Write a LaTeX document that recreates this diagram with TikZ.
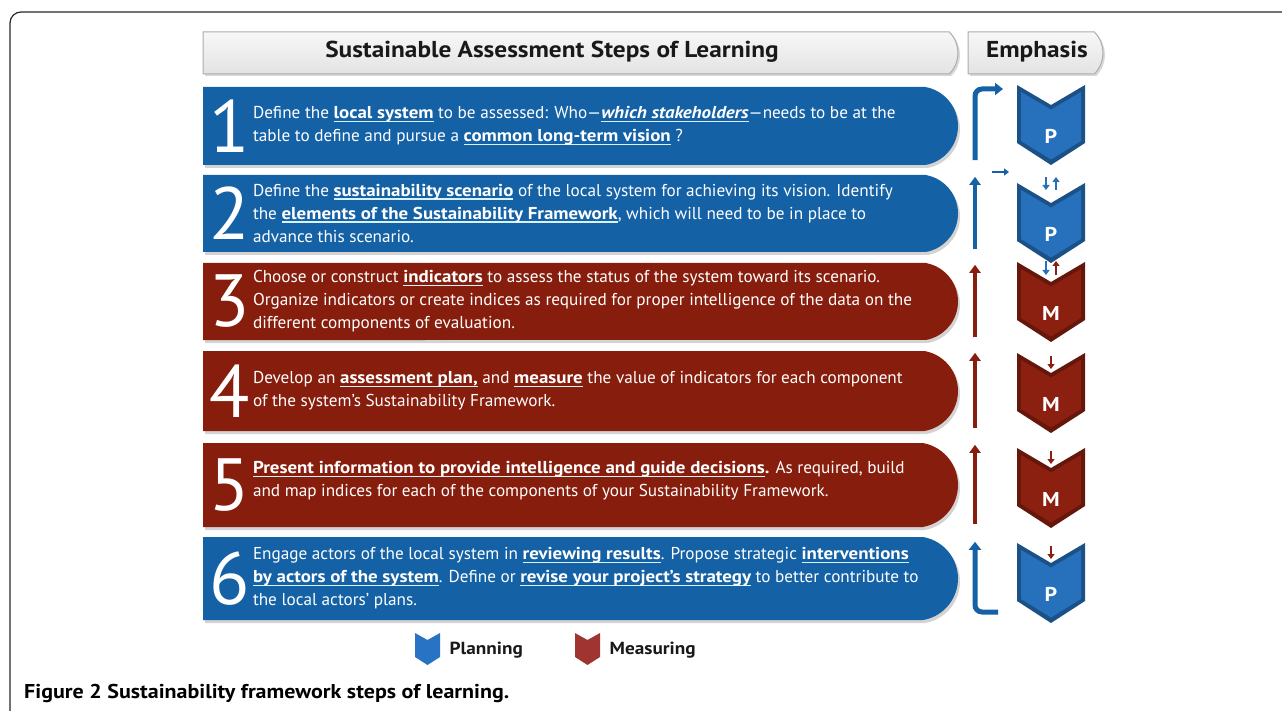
\documentclass[tikz,border=0pt]{standalone}
\usepackage{fontspec}
\setmainfont{PT Sans}[BoldFeatures={FakeStretch=1.1}, BoldItalicFeatures={FakeStretch=1.1}]
\usetikzlibrary{arrows.meta,shapes.misc,shadows,positioning,calc}

\definecolor{stepblue}{RGB}{20,97,165}
\definecolor{stepred}{RGB}{135,29,12}
\definecolor{chevblue}{RGB}{38,112,188}
\definecolor{chevred}{RGB}{140,32,16}
\definecolor{legblue}{RGB}{40,115,195}
\definecolor{legred}{RGB}{160,52,48}
\definecolor{inkdark}{RGB}{25,25,25}

\newcommand\stepul[1]{\sbox0{\bfseries #1}\rlap{\color{white!85!cyan}\rule[-3pt]{\wd0}{1.2pt}}\usebox0}

\begin{document}
\begin{tikzpicture}[
    x=1pt, y=-1pt, >=Stealth,
    stepbox/.style={rounded rectangle, rounded rectangle left arc=none,
                    rounded rectangle arc length=160, fill=#1, minimum width=755pt,
                    inner sep=0pt, drop shadow={shadow xshift=2pt, shadow yshift=-3pt, opacity=0.35}},
    hdrbox/.style={rounded rectangle, rounded rectangle left arc=none,
                   rounded rectangle arc length=90, top color=gray!6, bottom color=gray!22,
                   draw=gray!65, line width=1pt, minimum height=42pt, inner sep=0pt,
                   drop shadow={shadow xshift=2pt, shadow yshift=-2pt, opacity=0.3}},
    hdrtext/.style={font=\fontsize{23}{26}\selectfont\bfseries, text=inkdark, inner sep=0pt},
    bignum/.style={font=\fontsize{74}{74}\selectfont, text=white, inner sep=0pt, anchor=west},
    steptext/.style={font=\fontsize{17.2}{23}\selectfont, text=white, align=left,
                     inner sep=0pt, anchor=west},
    letter/.style={font=\fontsize{20}{20}\selectfont\bfseries, text=white, inner sep=0pt},
    legtext/.style={font=\fontsize{17.5}{20}\selectfont\bfseries, text=inkdark, inner sep=0pt, anchor=west},
    bentarr/.style={line width=5pt, draw=#1, rounded corners=7pt, -{Triangle[width=12pt,length=8pt]}},
    uparr/.style={line width=4.5pt, draw=#1, -{Triangle[width=11pt,length=8pt]},
                  shorten <=3pt, shorten >=2pt},
    smallarr/.style={line width=2.6pt, draw=#1, -{Triangle[width=7pt,length=5pt]}}]
  \useasboundingbox (0,0) rectangle (1282,711);
  %% Frame
  \draw[line width=1.2pt, rounded corners=11pt, black!85] (1300,12) -- (10,12) -- (10,730);
  %% Headers
  \node[hdrbox, minimum width=755pt]  (hdr) at (580.5,53) {};
  \node[hdrbox, minimum width=135pt]  (emp) at (1035.5,53) {};
  \node[hdrtext] (hdrt) at (552,52)  {Sustainable Assessment Steps of Learning};
  \node[hdrtext] (empt) at (1037,52) {Emphasis};
  %% Step boxes
  \foreach \i/\y/\h/\c in {1/126/78/stepblue, 2/213.5/77/stepblue, 3/301.5/77/stepred,
                           4/391/80/stepred, 5/485/84/stepred, 6/578.5/83/stepblue}{
    \node[stepbox=\c, minimum height=\h pt] (s\i) at (580.5,\y) {};
    \node[bignum] (n\i) at ([xshift=6pt]s\i.west) {\i};
  }
  %% Step texts
  \node[steptext] (t1) at ([xshift=50pt]s1.west)
    {Define the \stepul{local system} to be assessed: Who—\stepul{\itshape which stakeholders}—needs to be at the\\
     table to define and pursue a \stepul{common long-term vision} ?};
  \node[steptext] (t2) at ([xshift=50pt]s2.west)
    {Define the \stepul{sustainability scenario} of the local system for achieving its vision. Identify\\
     the \stepul{elements of the Sustainability Framework}, which will need to be in place to\\
     advance this scenario.};
  \node[steptext] (t3) at ([xshift=50pt]s3.west)
    {Choose or construct \stepul{indicators} to assess the status of the system toward its scenario.\\
     Organize indicators or create indices as required for proper intelligence of the data on the\\
     different components of evaluation.};
  \node[steptext] (t4) at ([xshift=50pt]s4.west)
    {Develop an \stepul{assessment plan,} and \stepul{measure} the value of indicators for each component\\
     of the system’s Sustainability Framework.};
  \node[steptext] (t5) at ([xshift=50pt,yshift=4pt]s5.west)
    {\stepul{Present information to provide intelligence and guide decisions}\textbf{.} As required, build\\
     and map indices for each of the components of your Sustainability Framework.};
  \node[steptext] (t6) at ([xshift=50pt]s6.west)
    {Engage actors of the local system in \stepul{reviewing results}. Propose strategic \stepul{interventions}\\
     \stepul{by actors of the system}. Define or \stepul{revise your project’s strategy} to better contribute to\\
     the local actors’ plans.};
  %% Emphasis chevrons
  \foreach \i/\y/\c/\l in {1/85/chevblue/P, 2/183/chevblue/P, 3/262/chevred/M,
                           4/353/chevred/M, 5/448/chevred/M, 6/543/chevblue/P}{
    \coordinate (k\i) at (1051,\y);
    \fill[\c!72!black] (k\i) ++(-34,0) -- ++(34,20) -- ++(34,-20) -- ++(0,58)
      -- ++(-34,22) -- ++(-34,-22) -- cycle;
    \fill[\c] (k\i) ++(-30,7) -- ++(30,17.6) -- ++(30,-17.6) -- ++(0,49)
      -- ++(-30,18.5) -- ++(-30,-18.5) -- cycle;
    \node[letter] (c\i) at ([shift={(0,51)}]k\i) {\l};
  }
  %% Arrows beside the steps
  \coordinate (ax) at (975,0);
  \draw[bentarr=stepblue, shorten <=5pt] (s1.south -| ax) |- ([shift={(-48,4)}]k1);
  \draw[smallarr=stepblue] ([shift={(-59,-11)}]k2) -- ([shift={(-42,-11)}]k2);
  \foreach \i/\c in {2/stepblue,3/stepred,4/stepred,5/stepred}
    \draw[uparr=\c] (s\i.south -| ax) -- (s\i.north -| ax);
  \draw[bentarr=stepblue, shorten >=5pt] ([shift={(-53,69)}]k6) -| (s6.north -| ax);
  %% Arrows between chevrons
  \draw[smallarr=chevblue] ([shift={(-5,-6)}]k2) -- ([shift={(-5,7)}]k2);
  \draw[smallarr=chevblue] ([shift={(5,7)}]k2) -- ([shift={(5,-6)}]k2);
  \draw[smallarr=chevblue] ([shift={(-5,-1)}]k3) -- ([shift={(-5,13)}]k3);
  \draw[smallarr=chevred]  ([shift={(5,13)}]k3) -- ([shift={(5,-1)}]k3);
  \foreach \i in {4,5,6}
    \draw[smallarr=chevred] ([shift={(0,3)}]k\i) -- ([shift={(0,16)}]k\i);
  %% Legend
  \foreach \n/\x/\c in {lp/427.5/legblue, lm/587.5/legred}{
    \coordinate (\n) at (\x,633);
    \fill[\c] (\n) ++(-12.5,0) -- ++(12.5,7) -- ++(12.5,-7) -- ++(0,24)
      -- ++(-12.5,8) -- ++(-12.5,-8) -- cycle;
  }
  \node[legtext] (lpt) at ([shift={(22,17)}]lp) {Planning};
  \node[legtext] (lmt) at ([shift={(22,17)}]lm) {Measuring};
  %% Caption
  \node[font=\fontsize{20}{22}\selectfont\bfseries, text=black, inner sep=0pt, anchor=west]
    (cap) at (24,693) {Figure 2 Sustainability framework steps of learning.};
\end{tikzpicture}
\end{document}
